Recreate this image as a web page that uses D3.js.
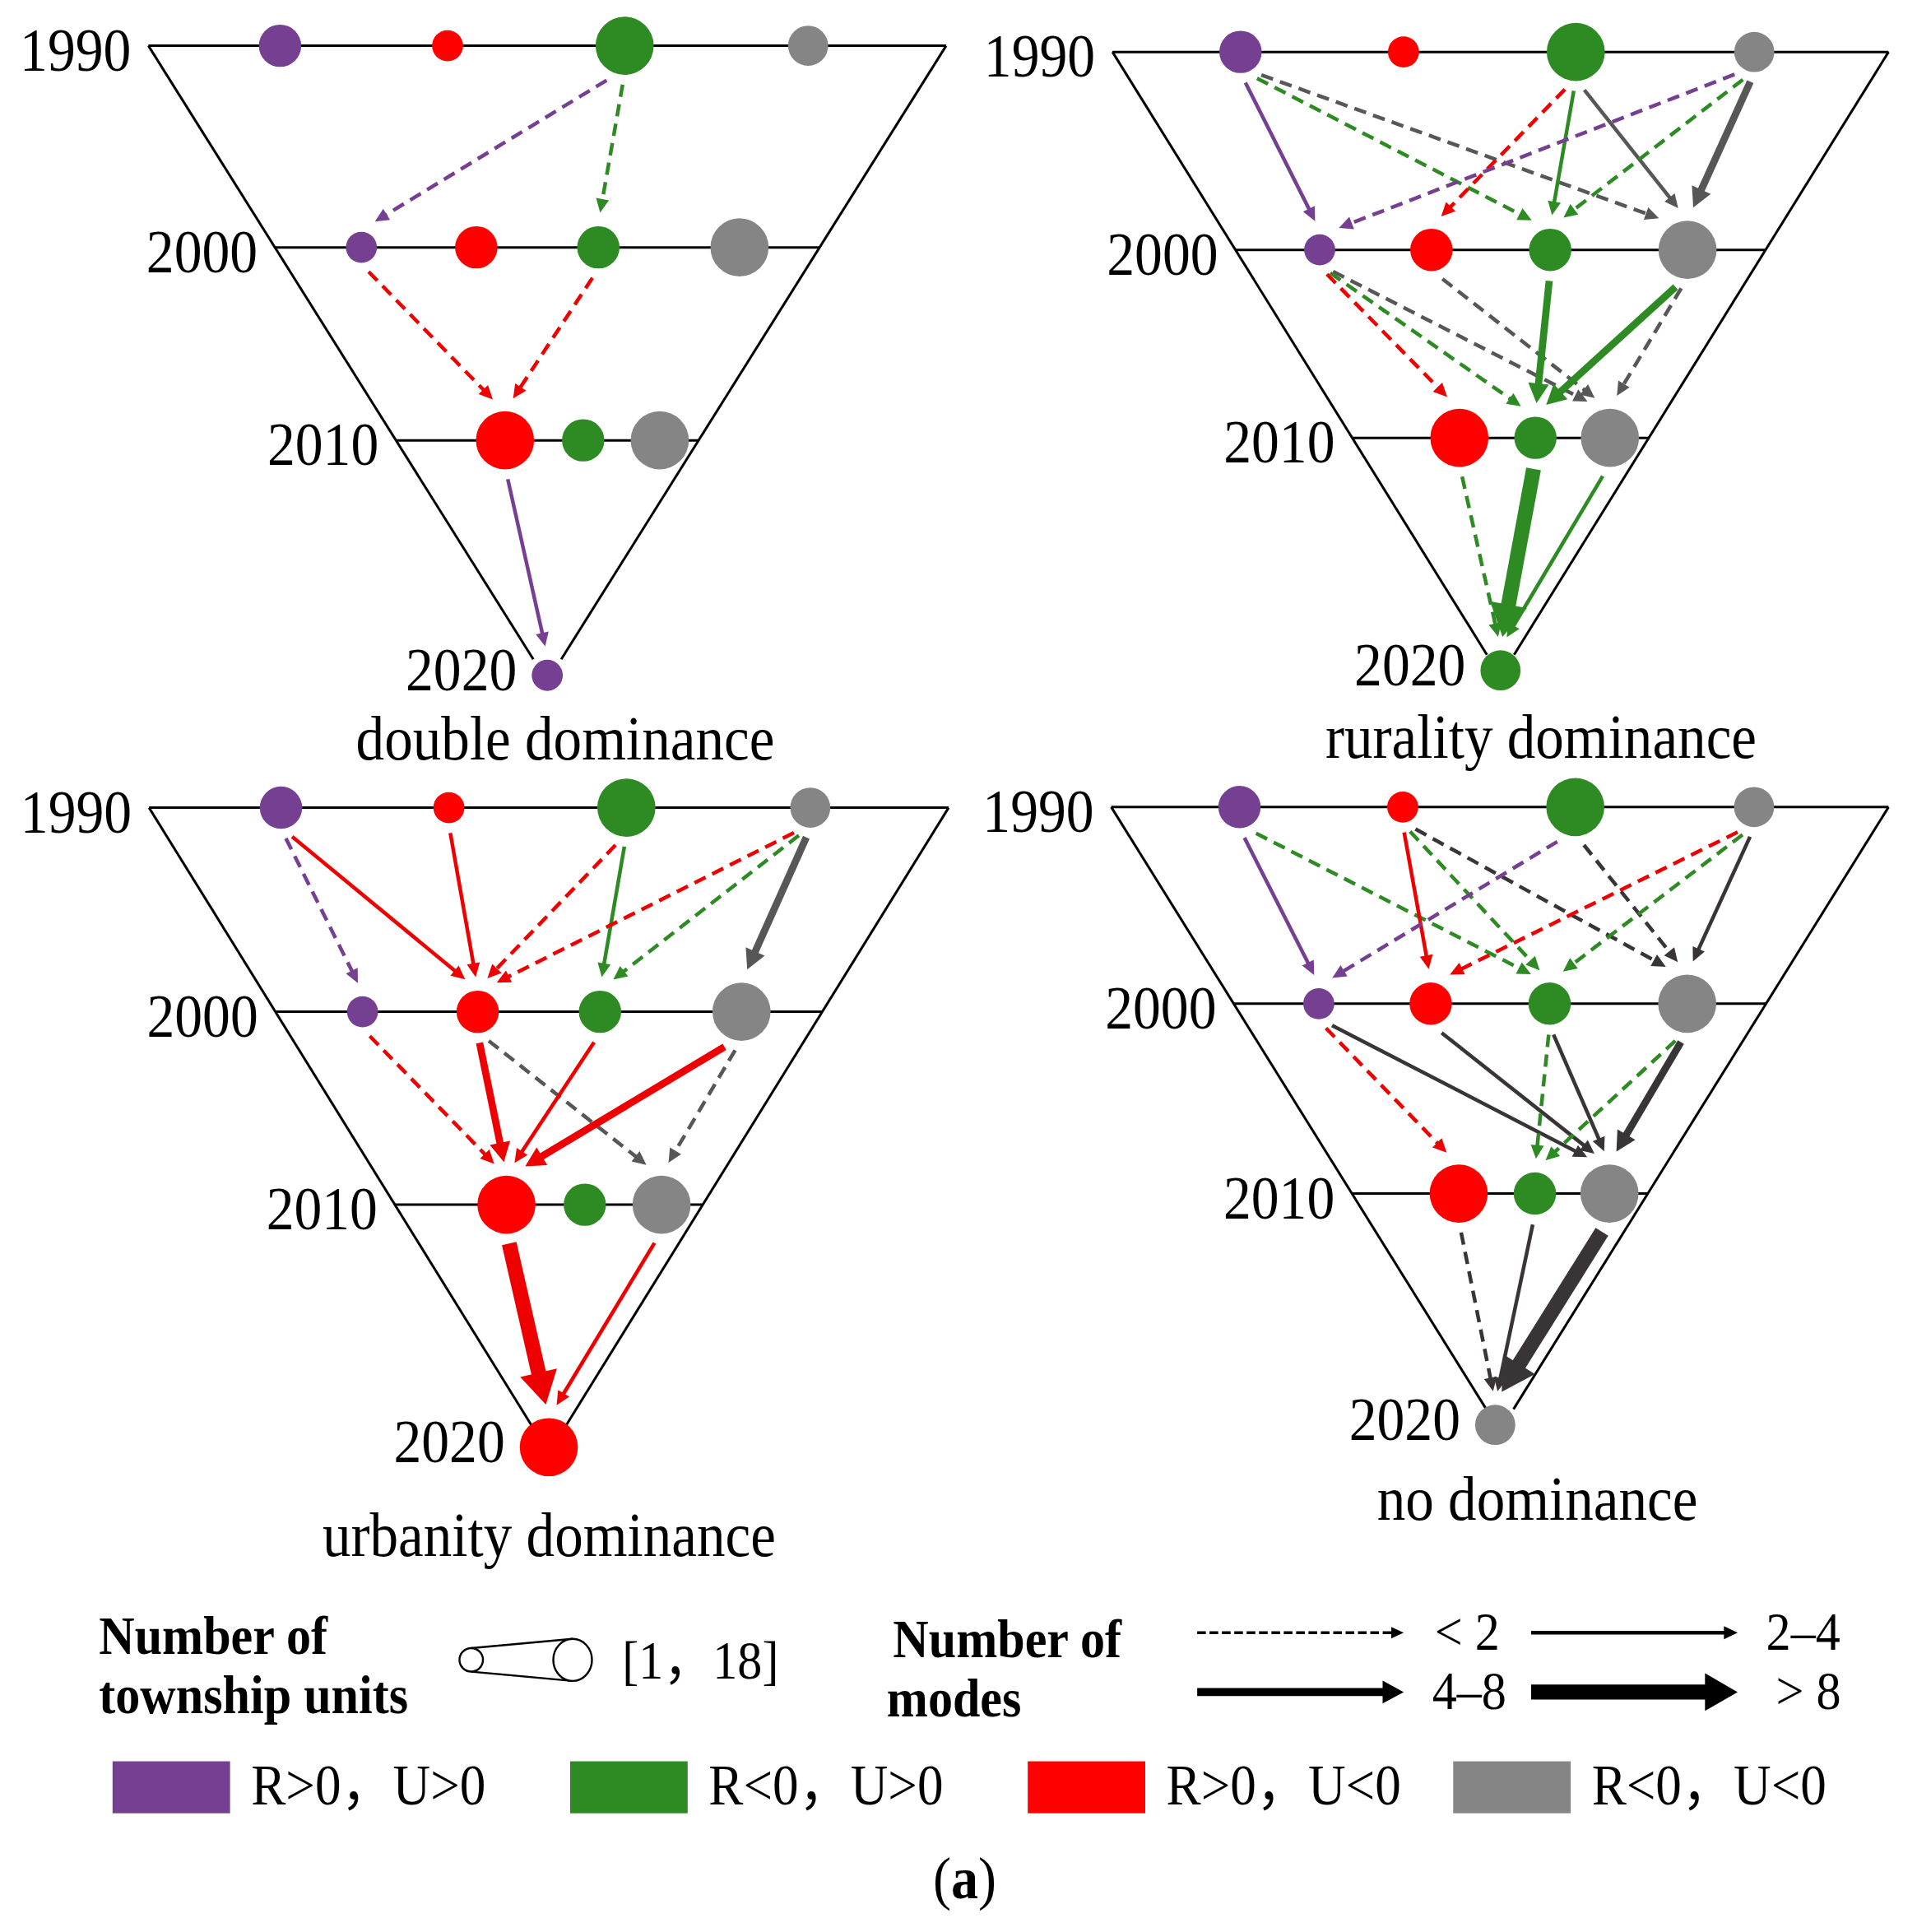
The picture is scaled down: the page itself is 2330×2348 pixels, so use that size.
<!DOCTYPE html>
<html>
<head>
<meta charset="utf-8">
<script src="https://cdn.jsdelivr.net/npm/d3@7"></script>
<style>
  body { margin: 0; background: #fff; }
  text { font-family: "Liberation Serif", "Times New Roman", "Noto Sans CJK SC", serif; fill: #000; }
</style>
</head>
<body>
<svg id="chart"></svg>
<script>
// ---- data ----
const years = [1990, 2000, 2010, 2020]
const types = ['pu', 'gr', 're', 'gy']
const typeLabels = ['R>0，U>0', 'R<0，U>0', 'R>0，U<0', 'R<0，U<0']
const modeClasses = ['< 2', '2–4', '4–8', '> 8']
const panelTitles = ['double dominance', 'rurality dominance', 'urbanity dominance', 'no dominance']

// township units per mode: [year, type, count]
const doubleNodes = [[1990, 'pu', 11], [1990, 're', 6], [1990, 'gr', 18], [1990, 'gy', 10],
  [2000, 'pu', 6], [2000, 're', 11], [2000, 'gr', 11], [2000, 'gy', 18],
  [2010, 're', 18], [2010, 'gr', 11], [2010, 'gy', 18], [2020, 'pu', 6]]
const ruralNodes = [[1990, 'pu', 11], [1990, 're', 6], [1990, 'gr', 18], [1990, 'gy', 10],
  [2000, 'pu', 6], [2000, 're', 11], [2000, 'gr', 11], [2000, 'gy', 18],
  [2010, 're', 18], [2010, 'gr', 11], [2010, 'gy', 18], [2020, 'gr', 10]]
const urbanNodes = [[1990, 'pu', 11], [1990, 're', 6], [1990, 'gr', 18], [1990, 'gy', 10],
  [2000, 'pu', 6], [2000, 're', 11], [2000, 'gr', 11], [2000, 'gy', 18],
  [2010, 're', 18], [2010, 'gr', 11], [2010, 'gy', 18], [2020, 're', 18]]
const noNodes = [[1990, 'pu', 11], [1990, 're', 6], [1990, 'gr', 18], [1990, 'gy', 10],
  [2000, 'pu', 6], [2000, 're', 11], [2000, 'gr', 11], [2000, 'gy', 18],
  [2010, 're', 18], [2010, 'gr', 11], [2010, 'gy', 18], [2020, 'gy', 10]]

// transitions: [from year, from type, to type, mode class index]
const doubleEdges = [[1990, 'gr', 'pu', 0], [1990, 'gr', 'gr', 0],
  [2000, 'pu', 're', 0], [2000, 'gr', 're', 0], [2010, 're', 'pu', 1]]
const ruralEdges = [[1990, 'pu', 'pu', 1], [1990, 'pu', 'gr', 0], [1990, 'pu', 'gy', 0],
  [1990, 'gr', 're', 0], [1990, 'gr', 'gr', 1], [1990, 'gr', 'gy', 1],
  [1990, 'gy', 'pu', 0], [1990, 'gy', 'gr', 0], [1990, 'gy', 'gy', 2],
  [2000, 'pu', 'gy', 0], [2000, 'pu', 'gr', 0], [2000, 'pu', 're', 0], [2000, 're', 'gy', 0],
  [2000, 'gr', 'gr', 2], [2000, 'gy', 'gr', 2], [2000, 'gy', 'gy', 0],
  [2010, 're', 'gr', 0], [2010, 'gr', 'gr', 3], [2010, 'gy', 'gr', 1]]
const urbanEdges = [[1990, 'pu', 'pu', 0], [1990, 'pu', 're', 1], [1990, 're', 're', 1],
  [1990, 'gr', 're', 0], [1990, 'gr', 'gr', 1], [1990, 'gy', 're', 0], [1990, 'gy', 'gr', 0],
  [1990, 'gy', 'gy', 2],
  [2000, 'pu', 're', 0], [2000, 're', 're', 2], [2000, 're', 'gy', 0], [2000, 'gr', 're', 1],
  [2000, 'gy', 're', 2], [2000, 'gy', 'gy', 0],
  [2010, 're', 're', 3], [2010, 'gy', 're', 1]]
const noEdges = [[1990, 'pu', 'pu', 1], [1990, 'pu', 'gr', 0], [1990, 're', 're', 1],
  [1990, 're', 'gr', 0], [1990, 're', 'gy', 0], [1990, 'gr', 'pu', 0], [1990, 'gr', 'gy', 0],
  [1990, 'gy', 're', 0], [1990, 'gy', 'gr', 0], [1990, 'gy', 'gy', 1],
  [2000, 'pu', 're', 0], [2000, 'pu', 'gy', 1], [2000, 're', 'gy', 1], [2000, 'gr', 'gr', 0],
  [2000, 'gr', 'gy', 1], [2000, 'gy', 'gr', 0], [2000, 'gy', 'gy', 2],
  [2010, 're', 'gy', 0], [2010, 'gr', 'gy', 1], [2010, 'gy', 'gy', 3]]

// ---- layout & style ----
const W = 1550, H = 1562
const svg = d3.select('#chart').attr('width', 2330).attr('height', 2348)
  .attr('viewBox', `0 0 ${W} ${H}`)

const fill = { pu: '#753f92', gr: '#2e8b24', re: '#ff0000', gy: '#858585' }
const widths = [3, 3, 5.8, 12]

// horizontal slot of each mode on its year line, as share of the top width
const slot = {
  1990: { pu: 0.165, re: 0.375, gr: 0.597, gy: 0.827 },
  2000: { pu: 0.267, re: 0.411, gr: 0.564, gy: 0.741 },
  2010: { re: 0.447, gr: 0.545, gy: 0.641 },
  2020: { pu: 0.5, gr: 0.5, re: 0.5, gy: 0.494 }
}

const panels = [
  { nodes: doubleNodes, edges: doubleEdges, x0: 120, x1: 765, levels: [37, 200, 356, 546], titleX: 457, titleY: 614, gray: '#575757' },
  { nodes: ruralNodes, edges: ruralEdges, x0: 899.5, x1: 1527, levels: [42, 202, 354, 542], titleX: 1246, titleY: 613, gray: '#575757' },
  { nodes: urbanNodes, edges: urbanEdges, x0: 120.5, x1: 767, levels: [653, 818, 974, 1170], titleX: 444, titleY: 1258, gray: '#575757' },
  { nodes: noNodes, edges: noEdges, x0: 898.5, x1: 1527, levels: [652.5, 811.5, 965, 1152], titleX: 1243, titleY: 1229, gray: '#393536' }
]

const r = d3.scaleLinear().domain([1, 18]).range([8, 23.5])

const tallText = (sel, x, y) => sel.attr('transform', `translate(${x},${y}) scale(1,1.1)`)

// arrow between two circles, returns line end points and head polygon
function arrow(s, t, w, k) {
  let dx = (t.x - s.x) * k, dy = t.y - s.y
  const L = Math.hypot(dx, dy); dx /= L; dy /= L
  const p0 = [s.x + dx * (s.r + 8), s.y + dy * (s.r + 8)]
  const p1 = [t.x - dx * (t.r + 11), t.y - dy * (t.r + 11)]
  return head(p0, p1, w)
}
function head(p0, p1, w) {
  const hl = 6 + 1.7 * w, hw = 4 + 2.2 * w
  const ux = p1[0] - p0[0], uy = p1[1] - p0[1], l = Math.hypot(ux, uy)
  const ex = ux / l, ey = uy / l
  const b = [p1[0] - ex * hl, p1[1] - ey * hl]
  const nx = -ey * hw / 2, ny = ex * hw / 2
  return {
    line: [p0, [b[0] + ex, b[1] + ey]],
    poly: [p1, [b[0] + nx, b[1] + ny], [b[0] - nx, b[1] - ny]]
  }
}

panels.forEach((p, i) => {
  const g = svg.append('g')
  const x = d3.scaleLinear().domain([0, 1]).range([p.x0, p.x1])
  const y = d3.scaleOrdinal().domain(years).range(p.levels)
  const apex = [x(0.5), y(2020) + 5]
  const depth = apex[1] - y(1990)
  const side = (f, yy) => f + (apex[0] - f) * (yy - y(1990)) / depth

  // V frame
  const vEnd = y(1990) + depth * 0.965
  g.selectAll('.side').data([p.x0, p.x1]).join('line')
    .attr('x1', d => d).attr('y1', y(1990))
    .attr('x2', d => side(d, vEnd)).attr('y2', vEnd)
    .attr('stroke', '#000').attr('stroke-width', 2)
  g.selectAll('.lvl').data(years.slice(0, 3)).join('line')
    .attr('x1', d => side(p.x0, y(d))).attr('x2', d => side(p.x1, y(d)))
    .attr('y1', d => y(d)).attr('y2', d => y(d))
    .attr('stroke', '#000').attr('stroke-width', 2)

  const nodes = p.nodes.map(([yr, tp, n]) => ({ yr, tp, n, x: x(slot[yr][tp]), y: y(yr), r: r(n) }))
  const find = (yr, tp) => nodes.find(d => d.yr === yr && d.tp === tp)

  // year labels
  years.slice(0, 3).forEach(yr => {
    g.append('text').attr('text-anchor', 'end').attr('font-size', 45).text(yr)
      .call(tallText, side(p.x0, y(yr)) - 14, y(yr) + 20)
  })
  const last = nodes.find(d => d.yr === 2020)
  g.append('text').attr('text-anchor', 'end').attr('font-size', 45).text(2020)
    .call(tallText, last.x - last.r - 12, y(2020) + 12)

  g.selectAll('circle').data(nodes).join('circle')
    .attr('cx', d => d.x).attr('cy', d => d.y).attr('r', d => d.r)
    .attr('fill', d => fill[d.tp])

  // transitions
  const arrows = p.edges.map(([yr, from, to, c]) => {
    const a = arrow(find(yr, from), find(yr + 10, to), widths[c], 0.4)
    return { ...a, c, color: to === 'gy' ? p.gray : (to === 're' ? '#ee0000' : fill[to]) }
  })
  const ag = g.selectAll('.arrow').data(arrows).join('g')
  ag.append('line')
    .attr('x1', d => d.line[0][0]).attr('y1', d => d.line[0][1])
    .attr('x2', d => d.line[1][0]).attr('y2', d => d.line[1][1])
    .attr('stroke', d => d.color).attr('stroke-width', d => widths[d.c])
    .attr('stroke-dasharray', d => d.c === 0 ? '10,6' : null)
  ag.append('polygon').attr('points', d => d.poly.join(' ')).attr('fill', d => d.color)

  g.append('text').attr('text-anchor', 'middle').attr('font-size', 46).text(panelTitles[i])
    .call(tallText, p.titleX, p.titleY)
})

// ---- legend ----
const lg = svg.append('g')
lg.append('text').attr('font-size', 40).attr('font-weight', 'bold').text('Number of').call(tallText, 80, 1337)
lg.append('text').attr('font-size', 40).attr('font-weight', 'bold').text('township units').call(tallText, 80, 1385)

// size cone
const cone = lg.append('g').attr('fill', 'none').attr('stroke', '#000').attr('stroke-width', 1.6)
const rs = [9.5, 17]
cone.append('line').attr('x1', 381).attr('y1', 1342 - rs[0]).attr('x2', 463).attr('y2', 1342 - rs[1])
cone.append('line').attr('x1', 381).attr('y1', 1342 + rs[0]).attr('x2', 463).attr('y2', 1342 + rs[1])
cone.append('ellipse').attr('cx', 381).attr('cy', 1342).attr('rx', rs[0]).attr('ry', rs[0]).attr('fill', '#fff')
cone.append('ellipse').attr('cx', 463).attr('cy', 1342).attr('rx', rs[1] * 0.92).attr('ry', rs[1]).attr('fill', '#fff')
lg.append('text').attr('font-size', 40).text(`[${r.domain()[0]}，${r.domain()[1]}]`).call(tallText, 503, 1357)

lg.append('text').attr('font-size', 40).attr('font-weight', 'bold').text('Number of').call(tallText, 722, 1340)
lg.append('text').attr('font-size', 40).attr('font-weight', 'bold').text('modes').call(tallText, 717, 1388)

const modeSpots = [[968, 1320, 1160], [1238, 1320, 1428], [968, 1368, 1158], [1238, 1368, 1436]]
const legendW = [2.4, 3, 6.5, 12]
modeClasses.forEach((m, i) => {
  const [mx, my, tx] = modeSpots[i]
  const a = head([mx, my], [mx + 167, my], legendW[i])
  lg.append('line').attr('x1', a.line[0][0]).attr('y1', my).attr('x2', a.line[1][0]).attr('y2', my)
    .attr('stroke', '#000').attr('stroke-width', legendW[i])
    .attr('stroke-dasharray', i === 0 ? '7,3' : null)
  lg.append('polygon').attr('points', a.poly.join(' ')).attr('fill', '#000')
  lg.append('text').attr('font-size', 40).text(m).call(tallText, tx, my + 14)
})

const boxX = [91, 461, 831, 1175]
types.forEach((t, i) => {
  lg.append('rect').attr('x', boxX[i]).attr('y', 1424).attr('width', 95).attr('height', 42).attr('fill', fill[t])
  lg.append('text').attr('font-size', 42).text(typeLabels[i]).call(tallText, boxX[i] + 112, 1459)
})

const cap = lg.append('text').attr('font-size', 44).attr('text-anchor', 'middle').call(tallText, 780, 1535)
cap.append('tspan').text('(')
cap.append('tspan').attr('font-weight', 'bold').text('a')
cap.append('tspan').text(')')
</script>
</body>
</html>
